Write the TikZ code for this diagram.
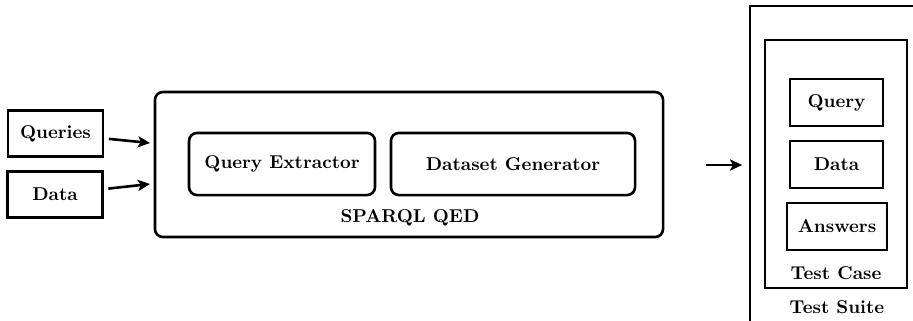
\documentclass[tikz,border=0pt]{standalone}
\usepackage{tikz}
\usetikzlibrary{arrows.meta}

\begin{document}
\begin{tikzpicture}[
  x=0.0189cm, y=-0.0189cm,
  font=\bfseries,
  boxStyle/.style={draw, line width=1.4pt, inner sep=0pt},
  roundStyle/.style={boxStyle, rounded corners=0.15cm},
  arrowStyle/.style={line width=1.4pt, -{Stealth[length=6.5pt, width=6pt, inset=1.5pt]}}]

\useasboundingbox (0, 0) rectangle (913, 320);

\node [boxStyle, minimum width=51pt, minimum height=25pt] (queries) at (55.5, 133.5) {Queries};
\node [boxStyle, minimum width=51pt, minimum height=24.5pt] (data) at (55, 194.5) {Data};

\node [roundStyle, minimum width=273.3pt, minimum height=78pt] (qed) at (409, 164.5) {};
\node [roundStyle, minimum width=100pt, minimum height=33.4pt] (extractor) at (282, 164) {Query Extractor};
\node [roundStyle, minimum width=131.3pt, minimum height=33.4pt] (generator) at (513, 164) {Dataset Generator};
\node (qedLabel) at (410, 218) {SPARQL QED};

\node [boxStyle, minimum width=94.2pt, minimum height=171pt] (suite) at (837.5, 165) {};
\node [boxStyle, minimum width=76.4pt, minimum height=133.4pt] (testCase) at (836, 164) {};
\node [boxStyle, minimum width=50pt, minimum height=25.3pt] (query) at (836.5, 102.5) {Query};
\node [boxStyle, minimum width=50pt, minimum height=25.3pt] (caseData) at (836.5, 164.5) {Data};
\node [boxStyle, minimum width=53.8pt, minimum height=25.3pt] (answers) at (837, 226.5) {Answers};
\node (caseLabel) at (836, 273) {Test Case};
\node (suiteLabel) at (837, 307) {Test Suite};

\coordinate (in1) at (150, 143);
\coordinate (in2) at (150, 184);
\coordinate (out) at (706, 165);

\draw [arrowStyle, shorten <=2.5pt] (queries) -- (in1);
\draw [arrowStyle, shorten <=2.5pt] (data) -- (in2);
\draw [arrowStyle, shorten >=3.5pt] (out) -- (suite.west);
\end{tikzpicture}
\end{document}
